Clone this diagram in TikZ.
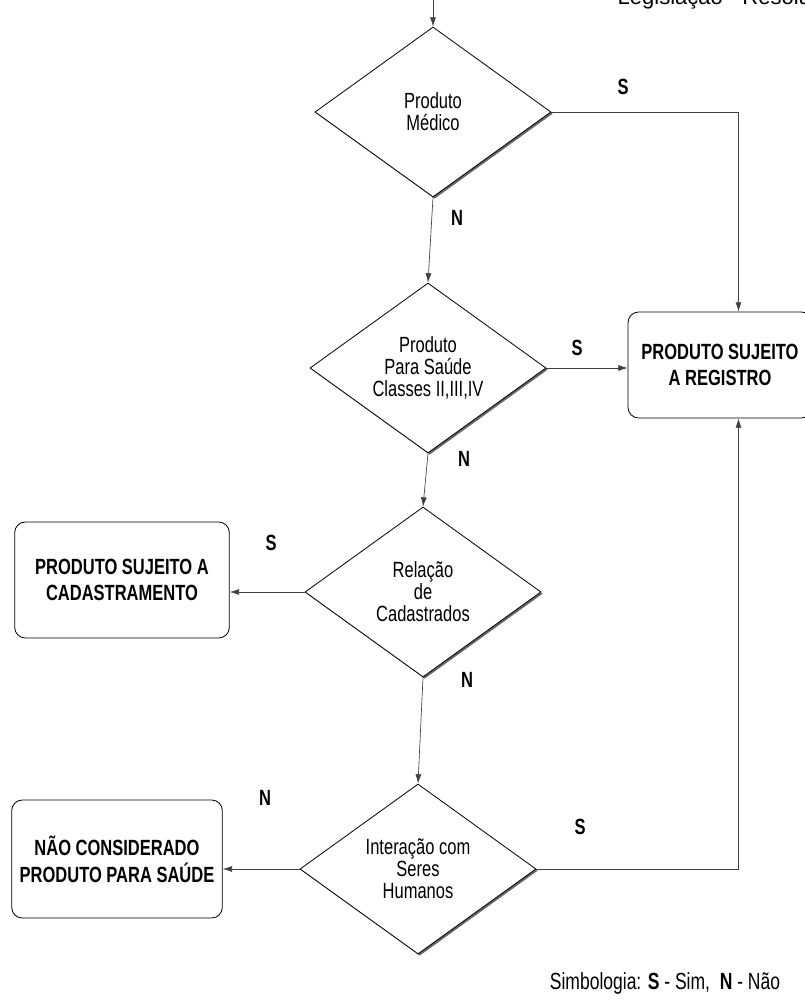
\documentclass[tikz,border=0pt]{standalone}
\usepackage{fontspec}
\setmainfont{Liberation Sans}[FakeStretch=0.75]
\newfontfamily\headfont{Liberation Sans}
\usetikzlibrary{shapes.geometric,arrows.meta,shadows,calc}

\tikzset{
	decision/.style={diamond, draw, line width=0.6pt, fill=white, aspect=1.39,
		minimum width=177pt, minimum height=127.5pt, inner sep=0pt, align=center,
		font=\fontsize{16.5pt}{16.5pt}\selectfont,
		drop shadow={shadow xshift=1.3pt, shadow yshift=-1.3pt, fill=black!60, opacity=1}},
	outcome/.style={rectangle, rounded corners=8pt, draw, line width=0.6pt, align=center,
		font=\bfseries\fontsize{16.5pt}{20pt}\selectfont},
	flow/.style={-{Latex[length=7pt,width=4.5pt]}, line width=0.5pt, black!75},
	answer/.style={font=\bfseries\fontsize{16.5pt}{16.5pt}\selectfont},
}

\begin{document}
\begin{tikzpicture}[x=0.75pt,y=-0.75pt]
	\useasboundingbox (0,0) rectangle (804,1005);
	\node[anchor=base west, font=\headfont\fontsize{16.5pt}{16.5pt}\selectfont] (hdr) at (613,5) {Legislação - Resolução};

	% decisoes
	\node[decision] (med) at (433,112) {Produto\\Médico};
	\node[decision] (cls) at (428,368) {Produto\\Para Saúde\\Classes II,III,IV};
	\node[decision] (rel) at (423,592) {Relação\\de\\Cadastrados};
	\node[decision] (hum) at (418,869) {Interação com\\Seres\\Humanos};

	% resultados
	\node[outcome, minimum width=138pt, minimum height=79.5pt] (reg) at (720,365) {PRODUTO SUJEITO\\A REGISTRO};
	\node[outcome, minimum width=161pt, minimum height=87pt] (cad) at (122,580) {PRODUTO SUJEITO A\\CADASTRAMENTO};
	\node[outcome, minimum width=158pt, minimum height=88.5pt] (nao) at (117,859) {NÃO CONSIDERADO\\PRODUTO PARA SAÚDE};

	% ligacoes
	\coordinate (entry) at (433,0);
	\coordinate (regtop) at ($(reg.north west)!0.6!(reg.north east)$);
	\coordinate (regbot) at ($(reg.south west)!0.6!(reg.south east)$);
	\draw[flow] (entry) -- (med.north);
	\draw[flow] (med.south) -- (cls.north);
	\draw[flow] (med.east) -| (regtop);
	\draw[flow] (cls.east) -- (cls.east -| reg.west);
	\draw[flow] (cls.south) -- (rel.north);
	\draw[flow] (rel.west) -- (rel.west -| cad.east);
	\draw[flow] (rel.south) -- (hum.north);
	\draw[flow] (hum.west) -- (hum.west -| nao.east);
	\draw[flow] (hum.east) -| (regbot);

	% respostas
	\node[answer] (s1) at (623,87) {S};
	\node[answer] (n1) at (457,218) {N};
	\node[answer] (s2) at (577,348) {S};
	\node[answer] (n2) at (464,459) {N};
	\node[answer] (s3) at (271,543) {S};
	\node[answer] (n3) at (467,680) {N};
	\node[answer] (n4) at (265,798) {N};
	\node[answer] (s4) at (580,827) {S};

	\node[font=\fontsize{17.5pt}{17.5pt}\selectfont] (key) at (665,983) {Simbologia: \textbf{S} - Sim,\ \ \textbf{N} - Não};
\end{tikzpicture}
\end{document}
